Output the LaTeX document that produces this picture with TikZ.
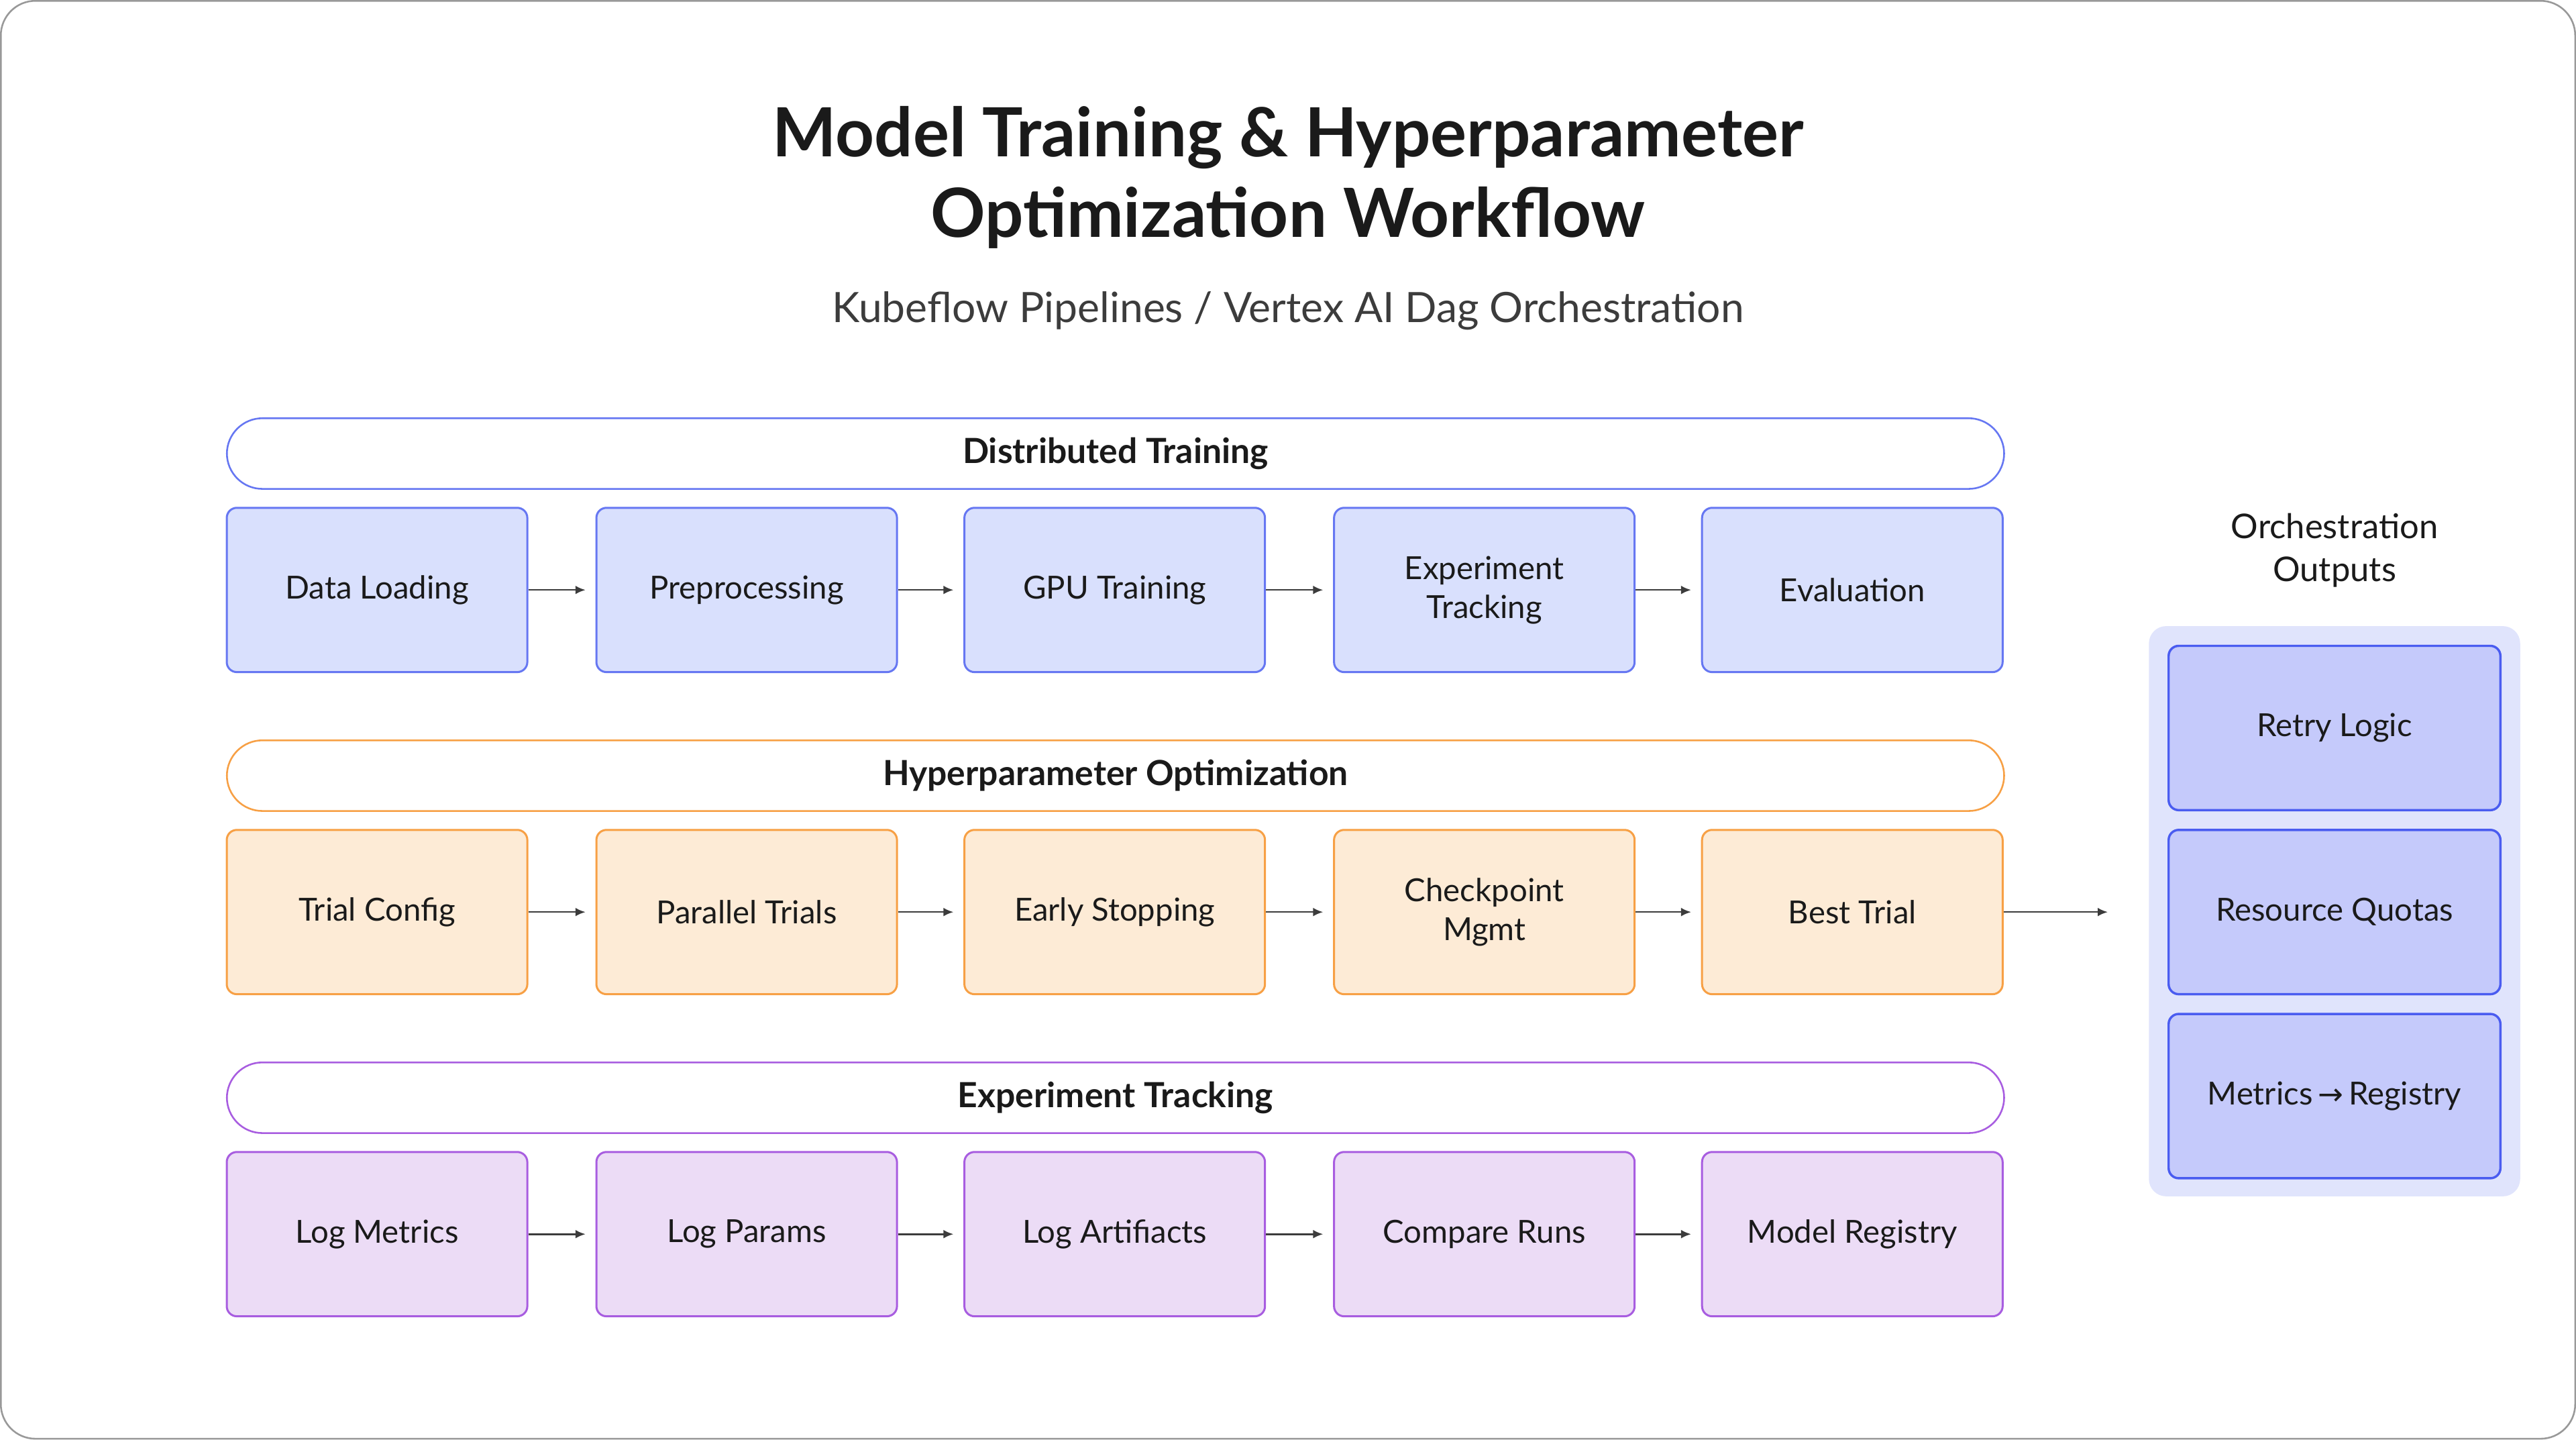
\documentclass[tikz,border=0pt]{standalone}
\usepackage{fontspec}
\setmainfont{Lato}
\usetikzlibrary{arrows.meta}
\definecolor{bF}{HTML}{D9E0FD}\definecolor{bD}{HTML}{6677F2}
\definecolor{oF}{HTML}{FDEBD6}\definecolor{oD}{HTML}{F7A045}
\definecolor{pF}{HTML}{ECDCF6}\definecolor{pD}{HTML}{A85DE0}
\definecolor{rF}{HTML}{C5CAFB}\definecolor{rD}{HTML}{4A5CF0}
\definecolor{panel}{HTML}{E0E4FC}\definecolor{txt}{HTML}{1A1A1A}
\tikzset{
 box/.style={draw=#1D,fill=#1F,line width=0.7pt,rounded corners=3.5pt,minimum width=3.66cm,minimum height=2cm,inner sep=0pt,align=center,text=txt,font=\fontsize{11}{13.5}\selectfont},
 band/.style={draw=#1D,fill=white,line width=0.6pt,rounded corners=12.3pt,minimum width=21.64cm,minimum height=0.86cm,inner sep=0pt,text=txt,font=\bfseries\fontsize{12}{14}\selectfont},
 rbox/.style={draw=rD,fill=rF,line width=0.8pt,rounded corners=3.5pt,minimum width=4.04cm,minimum height=2cm,inner sep=0pt,text=txt,font=\fontsize{11}{13.5}\selectfont},
 arr/.style={-{Latex[length=3.5pt,width=3pt]},line width=0.6pt,draw=txt!85},
}
\begin{document}
\begin{tikzpicture}[x=0.02cm,y=-0.02cm]
\useasboundingbox (0,0) rectangle (1568,876);
\draw[gray!80,line width=0.6pt,rounded corners=12pt] (0.5,0.5) rectangle (1567.5,875.5);
\node[font=\bfseries\fontsize{23.5}{28}\selectfont,align=center,text=txt] (title) at (784,108) {Model Training \& Hyperparameter\\Optimization Workflow};
\node[font=\fontsize{14.5}{17}\selectfont,text=txt!85] (sub) at (784,189) {Kubeflow Pipelines / Vertex AI Dag Orchestration};
\node[band=b] (h1) at (679,276) {Distributed Training};
\node[band=o] (h2) at (679,472) {Hyperparameter Optimization};
\node[band=p] (h3) at (679,668) {Experiment Tracking};
\node[box=b] (a1) at (229.5,359) {Data Loading};
\node[box=b] (a2) at (454.5,359) {Preprocessing};
\node[box=b] (a3) at (678.5,359) {GPU Training};
\node[box=b] (a4) at (903.5,359) {Experiment\\Tracking};
\node[box=b] (a5) at (1127.5,359) {Evaluation};
\node[box=o] (b1) at (229.5,555) {Trial Config};
\node[box=o] (b2) at (454.5,555) {Parallel Trials};
\node[box=o] (b3) at (678.5,555) {Early Stopping};
\node[box=o] (b4) at (903.5,555) {Checkpoint\\Mgmt};
\node[box=o] (b5) at (1127.5,555) {Best Trial};
\node[box=p] (c1) at (229.5,751) {Log Metrics};
\node[box=p] (c2) at (454.5,751) {Log Params};
\node[box=p] (c3) at (678.5,751) {Log Artifiacts};
\node[box=p] (c4) at (903.5,751) {Compare Runs};
\node[box=p] (c5) at (1127.5,751) {Model Registry};
\foreach \r in {a,b,c}{
 \foreach \i/\j in {1/2,2/3,3/4,4/5}{
  \draw[arr] (\r\i.east) -- ([xshift=-0.12cm]\r\j.west);
 }}
\node[font=\fontsize{11.8}{14.8}\selectfont,align=center,text=txt] (ot) at (1421,335) {Orchestration\\Outputs};
\fill[panel,rounded corners=6pt] (1308,381) rectangle (1534,728);
\node[rbox] (r1) at (1421,443) {Retry Logic};
\node[rbox] (r2) at (1421,555) {Resource Quotas};
\node[rbox] (r3) at (1421,667) {Metrics\,{\fontspec{DejaVu Sans}\fontsize{10.5}{13}\selectfont→}\,Registry};
\coordinate (pe) at (1283,555);
\draw[arr] (b5.east) -- (pe);
\end{tikzpicture}
\end{document}
